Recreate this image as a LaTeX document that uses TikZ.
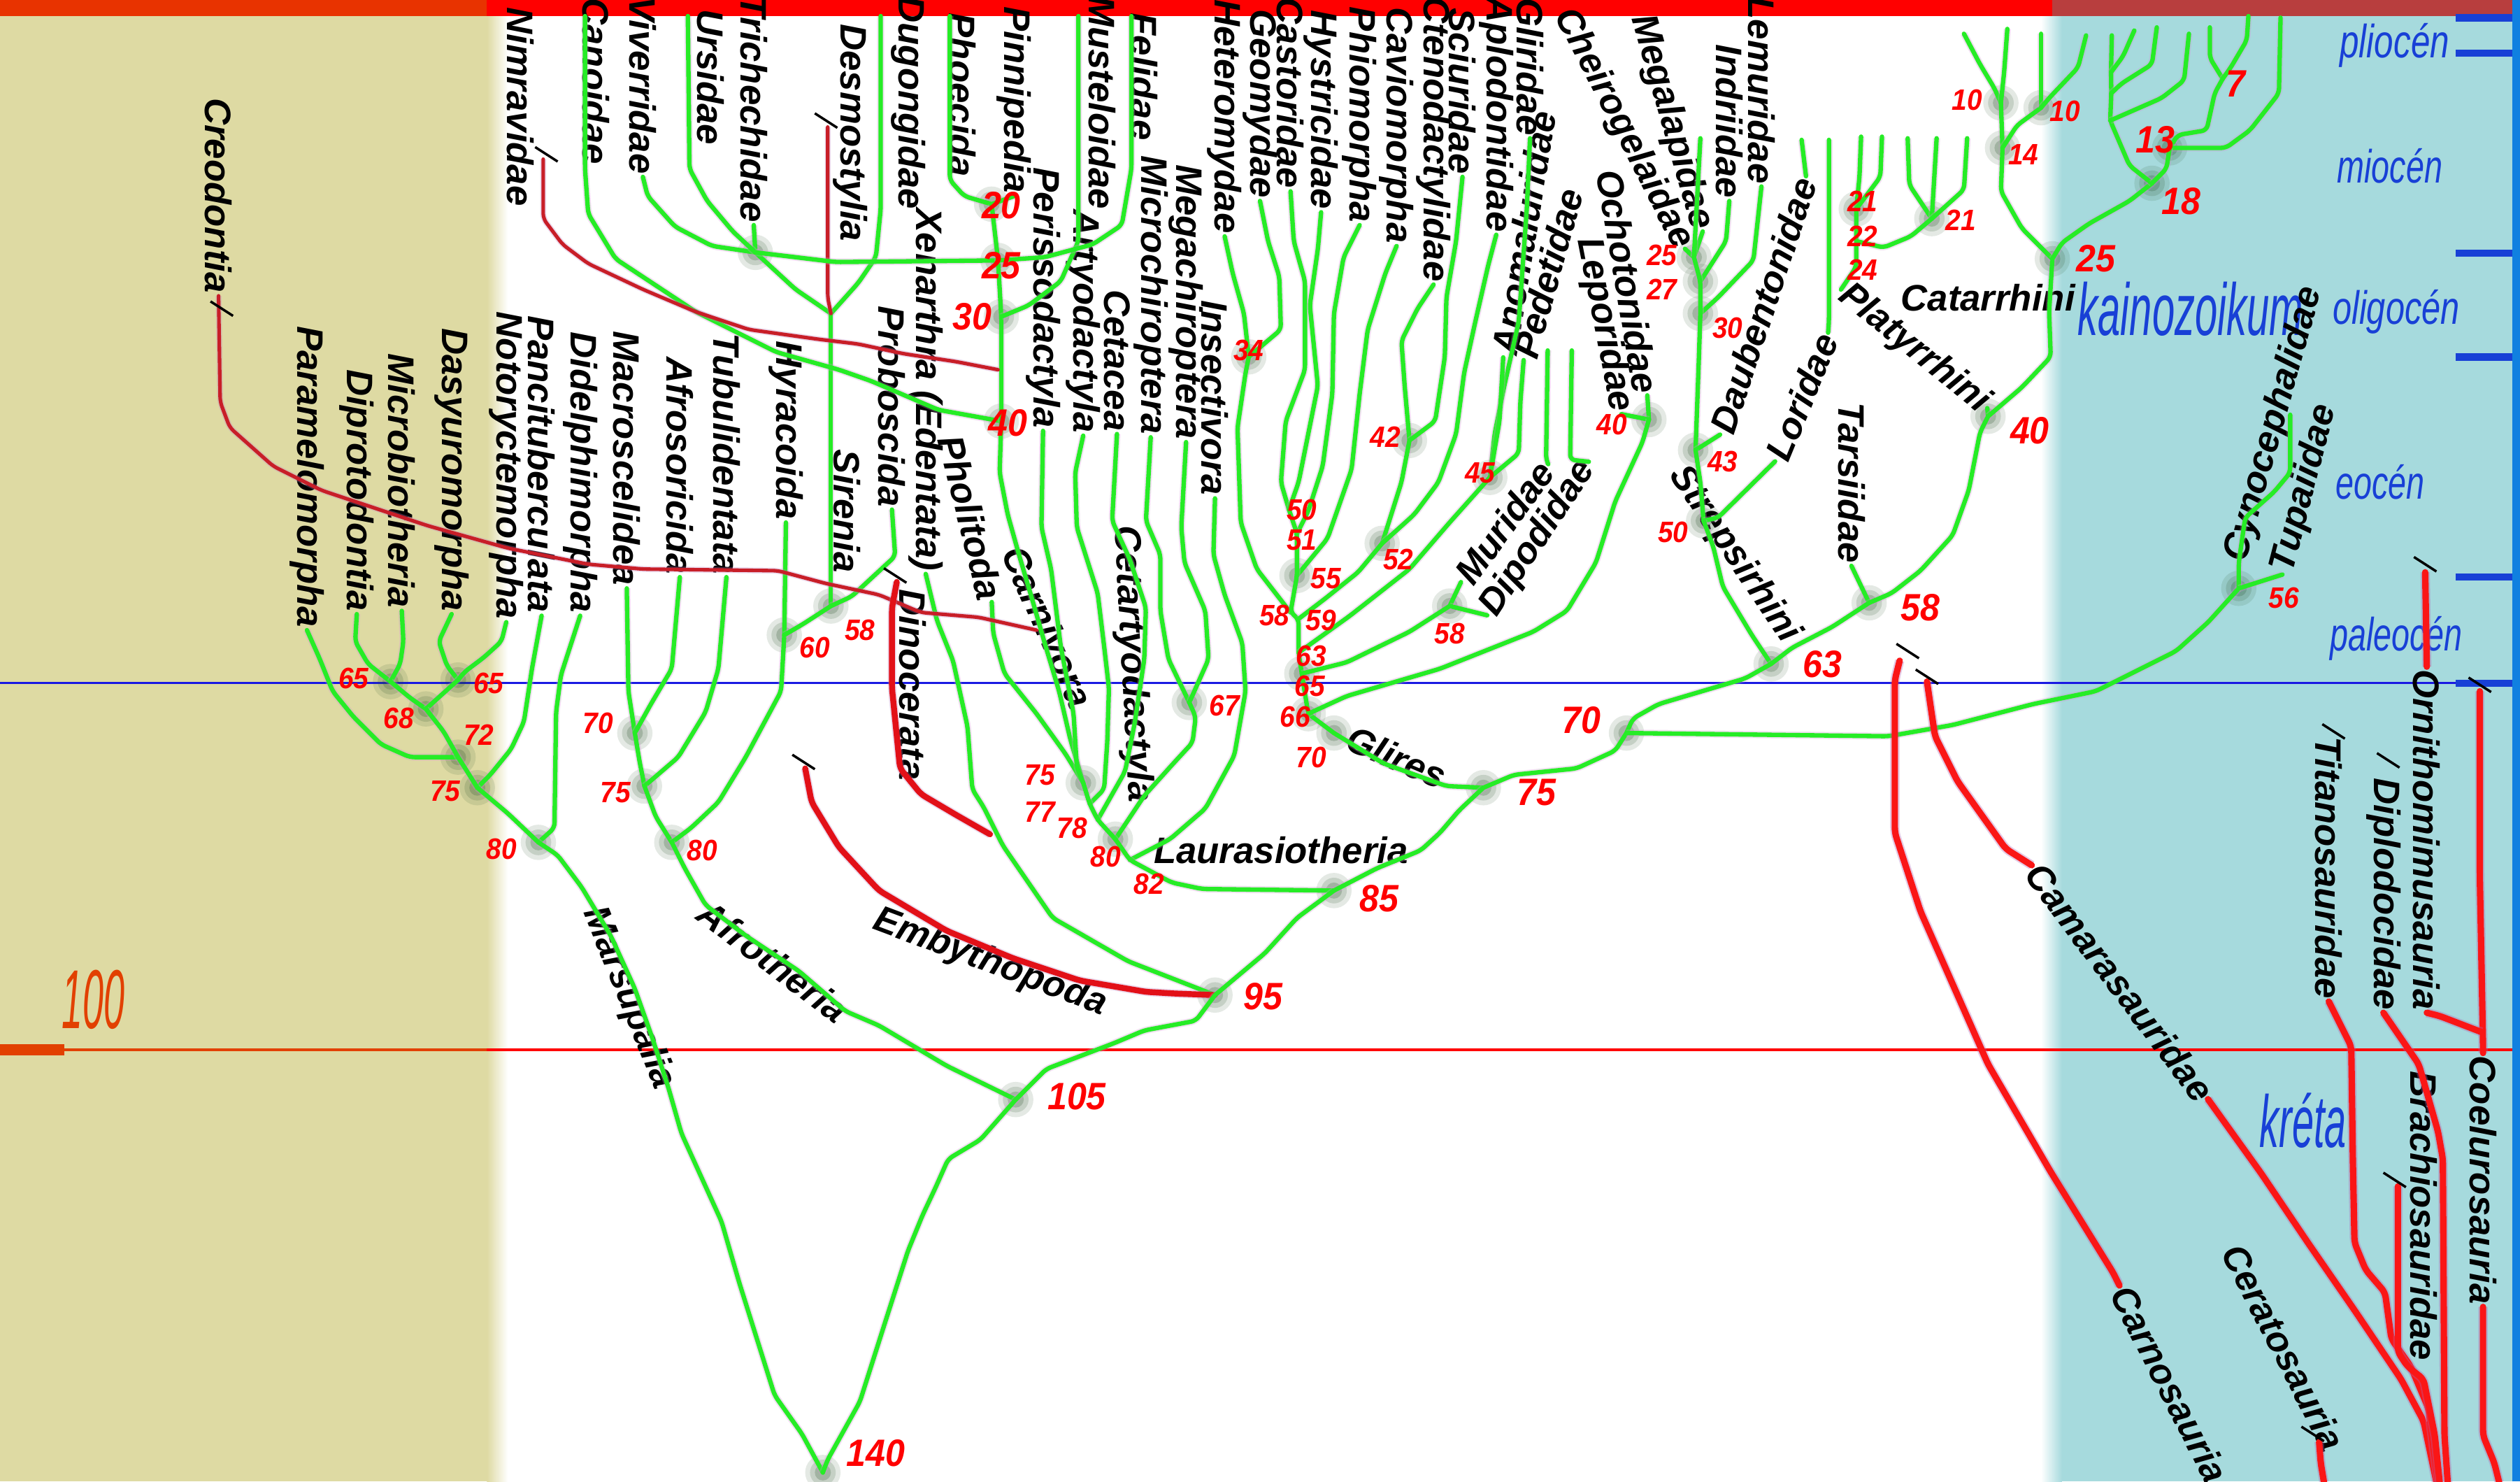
\documentclass[tikz,border=0pt]{standalone}
\usepackage{fontspec}
\setmainfont{Liberation Sans}
\definecolor{leaf}{RGB}{38,236,38}
\definecolor{tanbg}{RGB}{222,218,163}
\definecolor{cyanbg}{RGB}{166,218,221}
\definecolor{erablue}{RGB}{24,64,214}
\definecolor{lineblue}{RGB}{26,26,226}
\definecolor{deadred}{RGB}{200,30,40}
\definecolor{relicred}{RGB}{226,16,24}
\definecolor{dinored}{RGB}{250,22,22}
\definecolor{scaleorange}{RGB}{226,64,0}
\definecolor{topred}{RGB}{184,62,62}
\definecolor{barblue}{RGB}{16,128,224}
\definecolor{smudge}{RGB}{40,80,40}
\tikzset{
    every node/.style={inner sep=1pt},
    taxon/.style={font=\fontsize{15}{15}\selectfont\bfseries\itshape},
    vtaxon/.style={taxon, rotate=-90, anchor=east},
    age/.style={text=red, inner sep=0pt, xscale=.92,
        font=\fontsize{12}{12}\selectfont\bfseries\itshape},
    bigage/.style={age, font=\fontsize{15.5}{15.5}\selectfont\bfseries\itshape},
    epoch/.style={text=erablue, font=\fontsize{19}{19}\selectfont\itshape},
    branch/.style={draw=leaf, line width=1.8pt, line join=round, line cap=round,
        rounded corners=2pt,
        preaction={draw=violet!40, line width=2.9pt, opacity=.3}},
    extinct/.style={draw=deadred, line width=1.45pt, line join=round, line cap=round,
        rounded corners=2pt,
        preaction={draw=violet!50, line width=2.4pt, opacity=.3}},
    relic/.style={draw=relicred, line width=2.4pt, line join=round, line cap=round,
        rounded corners=2pt,
        preaction={draw=violet!50, line width=3.4pt, opacity=.3}},
    fossil/.style={draw=dinored, line width=2.6pt, line join=round, line cap=round,
        rounded corners=2pt,
        preaction={draw=violet!60, line width=3.8pt, opacity=.35}},
    halo/.pic={\foreach \r/\o in {11/.12,8/.16,5/.22}{\fill[smudge,opacity=\o] (0,0) circle (\r);}},
    cutmark/.pic={\draw[black, line width=1pt] (-7,-4.5) -- (7,4.5);}}

\begin{document}
\begin{tikzpicture}[x=0.022985cm, y=-0.022985cm]
    \useasboundingbox (0,0) rectangle (1568,921.5);
    \fill[white] (0,0) rectangle (1568,921.5);
    \fill[tanbg] (0,0) rectangle (303,921.5);
    \shade[left color=tanbg, right color=white] (303,0) rectangle (316,921.5);
    \fill[cyanbg] (1283,0) rectangle (1563,921.5);
    \shade[left color=white, right color=cyanbg] (1270,0) rectangle (1283,921.5);
    \fill[barblue] (1563,0) rectangle (1568,921.5);
    \fill[scaleorange!80!red] (0,0) rectangle (303,10);
    \fill[red] (303,0) rectangle (1277,10);
    \fill[topred] (1277,0) rectangle (1563,10);

    \draw[lineblue, line width=.9pt] (0,425) -- (1563,425);
    \draw[erablue, line width=3pt] (1528,425) -- (1563,425);
    \foreach \t in {11,33,157.5,222,359}
        \draw[erablue, line width=3pt] (1528,\t) -- (1563,\t);
    \draw[red, line width=1pt] (0,653) -- (1563,653);
    \draw[scaleorange, line width=1pt] (0,653) -- (303,653);
    \draw[scaleorange, line width=4.5pt] (0,653) -- (40,653);
    \node[text=scaleorange, font=\fontsize{34}{34}\selectfont\itshape, xscale=.45] (mya) at (58,622) {100};

    \node[epoch, xscale=.74] (plio) at (1490,28) {pliocén};
    \node[epoch, xscale=.7] (mio) at (1487,103) {miocén};
    \node[epoch, xscale=.73] (oligo) at (1491,194) {oligocén};
    \node[epoch, xscale=.7] (eoc) at (1481,300) {eocén};
    \node[epoch, xscale=.7] (paleo) at (1491,397) {paleocén};
    \node[epoch, font=\fontsize{30}{30}\selectfont\itshape, xscale=.55] (kaino) at (1363,192) {kainozoikum};
    \node[epoch, font=\fontsize{30}{30}\selectfont\itshape, xscale=.53] (kreta) at (1433,697) {kréta};

    \coordinate (r140) at (512,916);
    \coordinate (n105) at (632,684);
    \coordinate (n95) at (756,619);
    \coordinate (n85) at (830,554);
    \coordinate (n75g) at (923,490);
    \coordinate (n70) at (1012,456);
    \coordinate (n63) at (1102,413);
    \coordinate (n58t) at (1163,375);
    \coordinate (n40p) at (1237,259);
    \coordinate (n25c) at (1277,161);
    \coordinate (n18) at (1339,114);
    \coordinate (n13) at (1350,92);
    \coordinate (n7) at (1383,49);
    \coordinate (n14) at (1246,92);
    \coordinate (n10a) at (1245,64);
    \coordinate (n10b) at (1270,67);
    \coordinate (n21a) at (1155,130);
    \coordinate (n22) at (1155,150);
    \coordinate (n24) at (1155,166);
    \coordinate (n21b) at (1202,136);
    \coordinate (n56) at (1393,366);
    \coordinate (n50s) at (1060,324);
    \coordinate (n43) at (1055,280);
    \coordinate (n30l) at (1058,195);
    \coordinate (n27) at (1058,175);
    \coordinate (n25l) at (1054,160);
    \coordinate (n40l) at (1026,261);
    \coordinate (n42) at (877,274);
    \coordinate (n45) at (927,297);
    \coordinate (n52) at (860,338);
    \coordinate (n58m) at (902,377);
    \coordinate (n34) at (777,222);
    \coordinate (n50) at (802,317);
    \coordinate (n51) at (807,332);
    \coordinate (n55) at (807,358);
    \coordinate (n58r) at (803,381);
    \coordinate (n59) at (808,385);
    \coordinate (n63r) at (808,406);
    \coordinate (n65r) at (810,419);
    \coordinate (n66) at (814,444);
    \coordinate (n70r) at (830,456);
    \coordinate (n67) at (740,437);
    \coordinate (n75l) at (674,487);
    \coordinate (n77) at (678,500);
    \coordinate (n78) at (683,510);
    \coordinate (n80l) at (694,522);
    \coordinate (n82) at (703,535);
    \coordinate (n20) at (617,127);
    \coordinate (n25k) at (621,162);
    \coordinate (n30k) at (623,197);
    \coordinate (n40k) at (623,262);
    \coordinate (ntri) at (470,157);
    \coordinate (jsir) at (517,195);
    \coordinate (n58s) at (517,377);
    \coordinate (n60) at (488,395);
    \coordinate (n80a) at (418,524);
    \coordinate (n75a) at (401,489);
    \coordinate (n70a) at (395,456);
    \coordinate (n80m) at (335,524);
    \coordinate (n75m) at (297,490);
    \coordinate (n72) at (285,471);
    \coordinate (n68) at (265,441);
    \coordinate (n65a) at (243,424);
    \coordinate (n65b) at (285,423);

    \coordinate (topcan) at (364,10);
    \coordinate (topurs) at (428,10);
    \coordinate (topdug) at (548,10);
    \coordinate (topphoe) at (591,10);
    \coordinate (topmust) at (671,10);
    \coordinate (topfel) at (704,10);
    \coordinate (creoend) at (645,392);
    \coordinate (nimrtop) at (338,99);
    \coordinate (nimrend) at (621,230);
    \coordinate (desmotop) at (515,79);
    \coordinate (dinotop) at (558,362);
    \coordinate (dinoend) at (616,519);
    \coordinate (embytop) at (501,478);
    \coordinate (murtop) at (963,218);
    \coordinate (diptop) at (978,218);
    \coordinate (indrtop) at (1058,86);
    \coordinate (daubtop) at (1121,87);
    \coordinate (loritop) at (1138,87);
    \coordinate (cynotop) at (1425,258);
    \coordinate (p1top) at (1158,85);
    \coordinate (p2top) at (1171,85);
    \coordinate (p3top) at (1187,86);
    \coordinate (p4top) at (1205,86);
    \coordinate (p5top) at (1224,86);
    \coordinate (c1top) at (1222,21);
    \coordinate (c2top) at (1249,18);
    \coordinate (c3top) at (1270,21);
    \coordinate (c4top) at (1298,22);
    \coordinate (c5top) at (1314,22);
    \coordinate (c6top) at (1328,19);
    \coordinate (c7top) at (1342,17);
    \coordinate (c8top) at (1362,21);
    \coordinate (c9top) at (1375,17);
    \coordinate (c10top) at (1399,10);
    \coordinate (c11top) at (1419,11);
    \coordinate (j1) at (1313.5,45);
    \coordinate (j2) at (1313.7,58);
    \coordinate (j3) at (1313,75);
    \coordinate (carnotop) at (1182,411);
    \coordinate (camatop) at (1199,424);
    \coordinate (ornitop) at (1509,356);
    \coordinate (brachtop) at (1492,738);
    \coordinate (coeltop) at (1543,430);
    \coordinate (ceratop) at (1443,897);

    \foreach \n in {r140,n105,n95,n85,n75g,n70,n63,n58t,n40p,n25c,n18,n13,n14,n10a,n10b,
        n21a,n21b,n56,n43,n50s,n30l,n27,n25l,n40l,n42,n45,n52,n58m,n34,n55,n65r,n66,n70r,
        n67,n75l,n80l,ntri,n58s,n60,n80a,n75a,n70a,n80m,n75m,n72,n68,n65a,n65b,n20,n25k,n30k,n40k}
        \pic at (\n) {halo};

    \node[vtaxon] (creo) at (136,184) {Creodontia};
    \node[vtaxon] (paramel) at (191,392) {Paramelomorpha};
    \node[vtaxon] (diprot) at (222,382) {Diprotodontia};
    \node[vtaxon] (microb) at (250,380) {Microbiotheria};
    \node[vtaxon] (dasyur) at (281,382) {Dasyuromorpha};
    \node[vtaxon] (notor) at (315,387) {Notoryctemorpha};
    \node[vtaxon] (pancit) at (337,383) {Pancituberculata};
    \node[vtaxon] (didelph) at (361,383) {Didelphimorpha};
    \node[vtaxon] (macros) at (390,366) {Macroscelidea};
    \node[vtaxon] (afros) at (423,359) {Afrosoricida};
    \node[vtaxon] (tubul) at (452,359) {Tubulidentata};
    \node[vtaxon] (hyrac) at (489,325) {Hyracoida};
    \node[vtaxon] (nimr) at (324,130) {Nimravidae};
    \node[vtaxon] (canoid) at (371,104) {Canoidae};
    \node[vtaxon] (viverr) at (400,110) {Viverridae};
    \node[vtaxon] (ursid) at (442,92) {Ursidae};
    \node[vtaxon] (trich) at (469,140) {Trichechidae};
    \node[vtaxon] (desmo) at (529,152) {Desmostylia};
    \node[vtaxon] (dugong) at (565,132) {Dugongidae};
    \node[vtaxon] (phoec) at (599,112) {Phoecida};
    \node[vtaxon] (pinni) at (631,122) {Pinnipedia};
    \node[vtaxon] (mustel) at (686,132) {Musteloidae};
    \node[vtaxon] (felid) at (712,89) {Felidae};
    \node[vtaxon] (probos) at (555,317) {Proboscida};
    \node[vtaxon] (xenar) at (576,357) {Xenarthra (Edentata)};
    \node[vtaxon] (periss) at (649,268) {Perissodactyla};
    \node[vtaxon] (artyo) at (674,271) {Artyodactyla};
    \node[vtaxon] (cetac) at (695,270) {Cetacea};
    \node[vtaxon] (microch) at (716,272) {Microchiroptera};
    \node[vtaxon] (megach) at (738,275) {Megachiroptera};
    \node[vtaxon] (insect) at (756,310) {Insectivora};
    \node[vtaxon] (heterom) at (762,147) {Heteromydae};
    \node[vtaxon] (geomy) at (784,125) {Geomydae};
    \node[vtaxon] (castor) at (803,119) {Castoridae};
    \node[vtaxon] (hystr) at (822,132) {Hystricidae};
    \node[vtaxon] (phiom) at (846,140) {Phiomorpha};
    \node[vtaxon] (caviom) at (869,153) {Caviomorpha};
    \node[vtaxon] (ctenod) at (892,177) {Ctenodactylidae};
    \node[vtaxon] (sciur) at (910,110) {Sciuridae};
    \node[vtaxon] (aplod) at (931,146) {Aplodontidae};
    \node[vtaxon] (glirid) at (952,86) {Gliridae};
    \node[vtaxon] (indri) at (1076,125) {Indriidae};
    \node[vtaxon] (lemur) at (1096,116) {Lemuridae};
    \node[vtaxon] (tarsi) at (1152,352) {Tarsiidae};
    \node[vtaxon] (titano) at (1449,623) {Titanosauridae};
    \node[vtaxon] (diplo) at (1483,630) {Diplodocidae};
    \node[vtaxon] (ornith) at (1510,630) {Ornithomimusauria};
    \node[vtaxon] (brachio) at (1508,848) {Brachiosauridae};
    \node[vtaxon] (coelur) at (1545,813) {Coelurosauria};

    \node[taxon, rotate=-62.8] (cheiro) at (1010,80) {Cheirogelaidae};
    \node[taxon, rotate=-74] (megal) at (1040,76) {Megalapidae};
    \node[taxon, rotate=-80.4] (ochot) at (1013,175) {Ochotonidae};
    \node[taxon, rotate=-79] (lepor) at (998,202) {Leporidae};
    \node[taxon, rotate=71.6] (daub) at (1097,190) {Daubentonidae};
    \node[taxon, rotate=67.6] (lorid) at (1121,247) {Loridae};
    \node[taxon, rotate=-39] (platy) at (1191,217) {Platyrrhini};
    \node[taxon, rotate=-56] (streps) at (1079,345) {Strepsirhini};
    \node[taxon, rotate=54] (murid) at (936,325) {Muridae};
    \node[taxon, rotate=56.5] (dipod) at (957,335) {Dipodidae};
    \node[taxon, rotate=80.7] (anomal) at (948,145) {Anomaluridae};
    \node[taxon, rotate=74.5] (pedet) at (963,170) {Pedetidae};
    \node[taxon, rotate=74.4] (cynoc) at (1415,264) {Cynocephalidae};
    \node[taxon, rotate=75.5] (tupai) at (1434,304) {Tupaiidae};
    \node[taxon] (catarr) at (1237,185) {Catarrhini};
    \node[taxon] (lauras) at (797,529) {Laurasiotheria};
    \node[taxon, rotate=-23] (glires) at (869,471) {Glires};
    \node[taxon, rotate=-66] (carniv) at (652,390) {Carnivora};
    \node[taxon, rotate=-87] (cetart) at (704,413) {Cetartyodactyla};
    \node[taxon, rotate=-76] (pholid) at (604,322) {Pholitoda};
    \node[taxon, rotate=-37] (afroth) at (481,598) {Afrotheria};
    \node[taxon, rotate=-20.6] (embyth) at (616,599) {Embythopoda};
    \node[taxon, rotate=-68] (marsup) at (391,621) {Marsupalia};
    \node[taxon, rotate=-53] (camara) at (1319,611) {Camarasauridae};
    \node[taxon, rotate=-63] (carnos) at (1350,861) {Carnosauria};
    \node[taxon, rotate=-62.8] (cerato) at (1421,838) {Ceratosauria};
    \node[taxon, rotate=-90] (siren) at (527,318) {Sirenia};
    \node[taxon, rotate=-90] (dinoc) at (568,426) {Dinocerata};

    \draw[branch] (paramel.east) -- (199,410) -- (207,430) -- (220,446) -- (237,463) -- (255,471) -- (n72);
    \draw[branch] (diprot.east) -- (221,399) -- (229,413) -- (n65a);
    \draw[branch] (microb.east) -- (251,399) -- (249,413) -- (n65a);
    \draw[branch] (dasyur.east) -- (273,399) -- (278,414) -- (n65b);
    \draw[branch] (notor.east) -- (312,399) -- (301,409) -- (289,418) -- (n65b);
    \draw[branch] (n65a) -- (255,434) -- (n68);
    \draw[branch] (n65b) -- (275,432) -- (n68);
    \draw[branch] (n68) -- (276,455) -- (n72);
    \draw[branch] (pancit.east) -- (331,416) -- (326,449) -- (318,466) -- (305,482) -- (n75m);
    \draw[branch] (n72) -- (292,482) -- (n75m);
    \draw[branch] (didelph.east) -- (349,420) -- (346,443) -- (345,515) -- (n80m);
    \draw[branch] (n75m) -- (316,506) -- (n80m);
    \draw[branch] (n80m) -- (347,532) -- (362,552) -- (380,582) -- (395,615) -- (406,646) -- (416,677) -- (424,705)
        -- (449,760) -- (460,798) -- (482,868) -- (499,892) -- (r140);

    \draw[branch] (macros.east) -- (391,430) -- (n70a);
    \draw[branch] (afros.east) -- (418,416) -- (405,438) -- (n70a);
    \draw[branch] (n70a) -- (398,474) -- (n75a);
    \draw[branch] (tubul.east) -- (447,416) -- (439,443) -- (422,471) -- (n75a);
    \draw[branch] (n75a) -- (408,508) -- (n80a);
    \draw[branch] (hyrac.east) -- (n60);
    \draw[branch] (n60) -- (486,430) -- (464,471) -- (447,499) -- (430,515) -- (n80a);
    \draw[branch] (n80a) -- (426,540) -- (439,563) -- (464,582) -- (497,604) -- (526,629) -- (547,638) -- (589,663) -- (n105);
    \draw[branch] (trich.east) -- (ntri);
    \draw[branch] (ntri) -- (495,180) -- (jsir);
    \draw[branch] (topdug) -- (548,130) -- (545,160) -- (534,176) -- (jsir);
    \draw[branch] (jsir) -- (n58s);
    \draw[branch] (probos.east) -- (557,346) -- (544,358) -- (530,371) -- (n58s);
    \draw[branch] (n58s) -- (500,388) -- (n60);
    \draw[extinct] (desmotop) -- (515,185) -- (jsir);

    \draw[branch] (topcan) -- (364,105) -- (366,133) -- (383,161) -- (433,194) -- (483,219) -- (522,230) -- (542,237)
        -- (584,255) -- (n40k);
    \draw[branch] (viverr.east) -- (403,122) -- (420,141) -- (443,153) -- (ntri);
    \draw[branch] (topurs) -- (429,105) -- (440,125) -- (456,144) -- (ntri);
    \draw[branch] (ntri) -- (520,163) -- (n25k);
    \draw[branch] (topphoe) -- (591,112) -- (600,122) -- (n20);
    \draw[branch] (pinni.east) -- (n20);
    \draw[branch] (n20) -- (n25k) -- (n30k) -- (n40k);
    \draw[branch] (topmust) -- (671,150) -- (660,175) -- (640,190) -- (n30k);
    \draw[branch] (topfel) -- (704,105) -- (698,140) -- (680,152) -- (650,160) -- (n25k);
    \draw[branch] (n40k) -- (622,294) -- (627,320) -- (634,345) -- (642,372) -- (650,400) -- (659,430) -- (666,460) -- (n75l);
    \draw[branch] (pholid.east) -- (618,394) -- (625,419) -- (645,444) -- (663,469) -- (n75l);
    \draw[branch] (periss.east) -- (648,328) -- (654,354) -- (660,402) -- (668,444) -- (670,477) -- (n75l);
    \draw[branch] (artyo.east) -- (669,294) -- (670,328) -- (683,369) -- (687,402) -- (690,428) -- (689,461) -- (687,491) -- (n77);
    \draw[branch] (cetac.east) -- (692,324) -- (703,348) -- (713,378) -- (712,410) -- (706,450) -- (700,480) -- (n78);
    \draw[branch] (microch.east) -- (713,324) -- (722,345) -- (722,380) -- (727,410) -- (n67);
    \draw[branch] (megach.east) -- (735,328) -- (737,350) -- (750,380) -- (752,410) -- (n67);
    \draw[branch] (n67) -- (744,446) -- (742,462) -- (730,475) -- (712,495) -- (n80l);
    \draw[branch] (insect.east) -- (755,345) -- (762,370) -- (773,400) -- (775,430) -- (768,470) -- (750,503) -- (728,522) -- (n82);
    \draw[branch] (n75l) -- (n77) -- (n78) -- (n80l) -- (n82) -- (729,549) -- (748,553) -- (n85);
    \draw[branch] (xenar.east) -- (583,386) -- (593,411) -- (602,452) -- (605,491) -- (612,502) -- (624,526) -- (655,571)
        -- (702,598) -- (n95);
    \draw[extinct] (creo.east) -- (137,250) -- (143,266) -- (170,290) -- (200,305) -- (266,327) -- (316,341) -- (366,351)
        -- (400,354) -- (484,355) -- (514,363) -- (547,370) -- (573,381) -- (609,384) -- (creoend);
    \draw[extinct] (nimrtop) -- (338,136) -- (350,152) -- (366,164) -- (400,180) -- (433,194) -- (466,205) -- (509,211)
        -- (534,214) -- (562,220) -- (595,225) -- (nimrend);
    \draw[relic] (dinotop) -- (555,378) -- (555,428) -- (560,478) -- (573,494) -- (595,507) -- (dinoend);
    \draw[relic] (embytop) -- (505,499) -- (522,527) -- (547,554) -- (589,579) -- (630,596) -- (672,610) -- (713,617)
        -- (730,618) -- (n95);

    \draw[branch] (heterom.east) -- (767,170) -- (774,195) -- (n34);
    \draw[branch] (geomy.east) -- (789,150) -- (796,172) -- (797,205) -- (n34);
    \draw[branch] (n34) -- (775,232) -- (770,266) -- (772,325) -- (782,354) -- (n58r);
    \draw[branch] (castor.east) -- (805,150) -- (812,175) -- (812,230) -- (800,262) -- (797,300) -- (n50);
    \draw[branch] (hystr.east) -- (820,155) -- (815,190) -- (820,240) -- (812,280) -- (808,300) -- (n50);
    \draw[branch] (phiom.east) -- (836,160) -- (830,195) -- (829,245) -- (823,290) -- (814,318) -- (n51);
    \draw[branch] (caviom.east) -- (862,170) -- (851,205) -- (846,245) -- (841,292) -- (826,335) -- (n55);
    \draw[branch] (n50) -- (n51) -- (n55) -- (n58r) -- (n59) -- (n63r) -- (n65r) -- (n66) -- (n70r);
    \draw[branch] (ctenod.east) -- (882,192) -- (872,212) -- (874,240) -- (n42);
    \draw[branch] (sciur.east) -- (906,150) -- (900,185) -- (899,222) -- (893,262) -- (n42);
    \draw[branch] (n42) -- (872,300) -- (n52);
    \draw[branch] (aplod.east) -- (926,165) -- (918,200) -- (911,232) -- (906,270) -- (895,300) -- (880,320) -- (n52);
    \draw[branch] (n52) -- (845,356) -- (825,372) -- (n59);
    \draw[branch] (glirid.east) -- (950,130) -- (945,200) -- (936,240) -- (930,270) -- (n45);
    \draw[branch] (anomal.west) -- (933,262) -- (n45);
    \draw[branch] (pedet.west) -- (946,250) -- (945,282) -- (n45);
    \draw[branch] (n45) -- (902,325) -- (877,354) -- (840,383) -- (n63r);
    \draw[branch] (murtop) -- (962,286) -- (murid.east);
    \draw[branch] (murid.west) -- (n58m);
    \draw[branch] (diptop) -- (977,286) -- (dipod.east);
    \draw[branch] (dipod.west) -- (n58m);
    \draw[branch] (n58m) -- (877,393) -- (838,412) -- (n65r);
    \draw[branch] (ochot.east) -- (n40l);
    \draw[branch] (lepor.east) -- (n40l);
    \draw[branch] (n40l) -- (1022,275) -- (1005,312) -- (993,350) -- (975,380) -- (954,393) -- (896,416) -- (838,433) -- (n66);
    \draw[branch] (n70r) -- (861,475) -- (900,489) -- (n75g);

    \draw[branch] (cheiro.east) -- (n25l);
    \draw[branch] (megal.east) -- (n25l);
    \draw[branch] (indrtop) -- (n25l);
    \draw[branch] (indri.east) -- (1074,150) -- (n27);
    \draw[branch] (lemur.east) -- (1091,162) -- (1069,185) -- (n30l);
    \draw[branch] (n25l) -- (n27) -- (n30l) -- (1057,225) -- (n43);
    \draw[branch] (daubtop) -- (daub.east);
    \draw[branch] (daub.west) -- (n43);
    \draw[branch] (n43) -- (1058,300) -- (n50s);
    \draw[branch] (loritop) -- (1138,200) -- (lorid.east);
    \draw[branch] (lorid.west) -- (1069,322) -- (n50s);
    \draw[branch] (n50s) -- (1066,340) -- (1072,365) -- (1090,395) -- (n63);
    \draw[branch] (tarsi.east) -- (n58t);
    \draw[branch] (n40p) -- (1232,269) -- (1225,305) -- (1215,333) -- (1195,355) -- (1177,369) -- (n58t);
    \draw[branch] (n58t) -- (1140,390) -- (1115,403) -- (n63);
    \draw[branch] (n63) -- (1086,422) -- (1032,438) -- (1016,447) -- (n70);
    \draw[branch] (n70) -- (1005,467) -- (981,478) -- (942,482) -- (n75g);
    \draw[branch] (n70) -- (1175,458) -- (1215,451) -- (1265,438) -- (1304,430) -- (1354,405) -- (1374,387) -- (n56);
    \draw[branch] (cynotop) -- (1425,294) -- (1415,306) -- (1397,322) -- (1393,350) -- (n56);
    \draw[branch] (tupai.west) -- (n56);
    \draw[branch] (n75g) -- (908,504) -- (896,518) -- (884,529) -- (857,540) -- (n85);
    \draw[branch] (n85) -- (807,571) -- (787,593) -- (n95);
    \draw[branch] (n95) -- (744,635) -- (712,641) -- (693,649) -- (651,665) -- (n105);
    \draw[branch] (n105) -- (610,709) -- (590,721) -- (582,739) -- (574,756) -- (565,778) -- (549,828) -- (535,872)
        -- (515,908) -- (r140);

    \draw[branch] (p1top) -- (1157,110) -- (n21a);
    \draw[branch] (p2top) -- (1170,110) -- (n21a);
    \draw[branch] (n21a) -- (n22) -- (n24) -- (platy.west);
    \draw[branch] (p3top) -- (1188,115) -- (n21b);
    \draw[branch] (p4top) -- (n21b);
    \draw[branch] (p5top) -- (1222,118) -- (n21b);
    \draw[branch] (n21b) -- (1189,147) -- (1172,154) -- (n22);
    \draw[branch] (platy.east) -- (n40p);
    \draw[branch] (n25c) -- (1275,194) -- (1276,222) -- (1258,241) -- (n40p);
    \draw[branch] (n14) -- (1245,119) -- (1258,142) -- (n25c);
    \draw[branch] (n18) -- (1325,125) -- (1300,139) -- (1283,151) -- (n25c);
    \draw[branch] (n10a) -- (n14);
    \draw[branch] (n10b) -- (1255,78) -- (n14);
    \draw[branch] (c1top) -- (1232,40) -- (1241,55) -- (n10a);
    \draw[branch] (c2top) -- (1247,45) -- (n10a);
    \draw[branch] (c3top) -- (n10b);
    \draw[branch] (c4top) -- (1293,42) -- (1275,61) -- (n10b);
    \draw[branch] (c5top) -- (j1) -- (j2) -- (j3) -- (1325,103) -- (n18);
    \draw[branch] (c6top) -- (1321,35) -- (j1);
    \draw[branch] (c7top) -- (1339,40) -- (1320,52) -- (j2);
    \draw[branch] (c8top) -- (1359,50) -- (1345,61) -- (j3);
    \draw[branch] (c9top) -- (1375,36) -- (n7);
    \draw[branch] (c10top) -- (1398,25) -- (1388,42) -- (n7);
    \draw[branch] (n7) -- (1378,58) -- (1373,81) -- (1355,84) -- (n13);
    \draw[branch] (c11top) -- (1418,58) -- (1400,81) -- (1385,92) -- (n13);
    \draw[branch] (n13) -- (1348,105) -- (n18);

    \draw[fossil] (carnotop) -- (1179,423) -- (1179,518) -- (1195,567) -- (1237,662) -- (1276,729) -- (1315,792) -- (carnos.west);
    \draw[fossil] (camatop) -- (1204,458) -- (1218,486) -- (1248,528) -- (camara.west);
    \draw[fossil] (camara.east) -- (1407,730) -- (1436,773) -- (1465,815) -- (1494,858) -- (1508,884) -- (1516,922);
    \draw[fossil] (titano.east) -- (1463,651) -- (1464,722) -- (1465,773) -- (1472,790) -- (1484,804) -- (1488,833)
        -- (1500,850) -- (1511,876) -- (1517,922);
    \draw[fossil] (diplo.east) -- (1505,662) -- (1517,704) -- (1520,721) -- (1521,893) -- (1523,922);
    \draw[fossil] (brachtop) -- (1492,841) -- (1498,850) -- (1508,858) -- (1515,893) -- (1518,922);
    \draw[fossil] (coeltop) -- (1543,546) -- (1545,651) -- (coelur.west);
    \draw[fossil] (coelur.east) -- (1545,893) -- (1552,910) -- (1555,922);
    \draw[fossil] (ornitop) -- (ornith.west);
    \draw[fossil] (ornith.east) -- (1518,632) -- (1544,642);
    \draw[fossil] (ceratop) -- (1444,910) -- (1446,922);

    \foreach \m in {(138,192),(340,96),(514,75),(557,358),(500,474),(1187,405),(1199,421),
        (1452,455),(1486,473),(1509,351),(1490,734),(1543,426),(1439,892)}
        \pic at \m {cutmark};

    \node[age] (l65a) at (220,422) {65};
    \node[age] (l65b) at (304,425) {65};
    \node[age] (l68) at (248,447) {68};
    \node[age] (l72) at (298,457) {72};
    \node[age] (l75m) at (277,492) {75};
    \node[age] (l80m) at (312,528) {80};
    \node[age] (l70a) at (372,450) {70};
    \node[age] (l75a) at (383,493) {75};
    \node[age] (l80a) at (437,529) {80};
    \node[age] (l60) at (507,403) {60};
    \node[age] (l58s) at (535,392) {58};
    \node[age] (l67) at (762,439) {67};
    \node[age] (l75l) at (647,482) {75};
    \node[age] (l77) at (647,505) {77};
    \node[age] (l78) at (667,515) {78};
    \node[age] (l80l) at (688,533) {80};
    \node[age] (l82) at (715,550) {82};
    \node[age] (l66) at (806,446) {66};
    \node[age] (l70r) at (816,471) {70};
    \node[age] (l65r) at (815,427) {65};
    \node[age] (l63r) at (816,408) {63};
    \node[age] (l59) at (822,386) {59};
    \node[age] (l58r) at (793,383) {58};
    \node[age] (l55) at (825,360) {55};
    \node[age] (l51) at (810,336) {51};
    \node[age] (l50) at (810,317) {50};
    \node[age] (l52) at (870,348) {52};
    \node[age] (l58m) at (902,394) {58};
    \node[age] (l50s) at (1041,331) {50};
    \node[age] (l42) at (862,272) {42};
    \node[age] (l45) at (921,294) {45};
    \node[age] (l34) at (777,218) {34};
    \node[age] (l40l) at (1003,264) {40};
    \node[age] (l25l) at (1034,159) {25};
    \node[age] (l27) at (1034,180) {27};
    \node[age] (l30l) at (1075,204) {30};
    \node[age] (l43) at (1072,287) {43};
    \node[age] (l21a) at (1159,125) {21};
    \node[age] (l22) at (1159,147) {22};
    \node[age] (l24) at (1159,168) {24};
    \node[age] (l21b) at (1220,137) {21};
    \node[age] (l10a) at (1224,62) {10};
    \node[age] (l10b) at (1285,69) {10};
    \node[age] (l14) at (1259,96) {14};
    \node[age] (l56) at (1421,372) {56};
    \node[bigage] (l7) at (1391,52) {7};
    \node[bigage] (l13) at (1341,87) {13};
    \node[bigage] (l18) at (1357,125) {18};
    \node[bigage] (l25c) at (1304,161) {25};
    \node[bigage] (l40p) at (1263,268) {40};
    \node[bigage] (l58t) at (1195,378) {58};
    \node[bigage] (l63) at (1134,413) {63};
    \node[bigage] (l70) at (984,448) {70};
    \node[bigage] (l75g) at (956,493) {75};
    \node[bigage] (l85) at (858,559) {85};
    \node[bigage] (l95) at (786,620) {95};
    \node[bigage] (l105) at (670,682) {105};
    \node[bigage] (l140) at (545,904) {140};
    \node[bigage] (l20) at (623,128) {20};
    \node[bigage] (l25k) at (623,165) {25};
    \node[bigage] (l30k) at (605,197) {30};
    \node[bigage] (l40k) at (627,263) {40};
\end{tikzpicture}
\end{document}
